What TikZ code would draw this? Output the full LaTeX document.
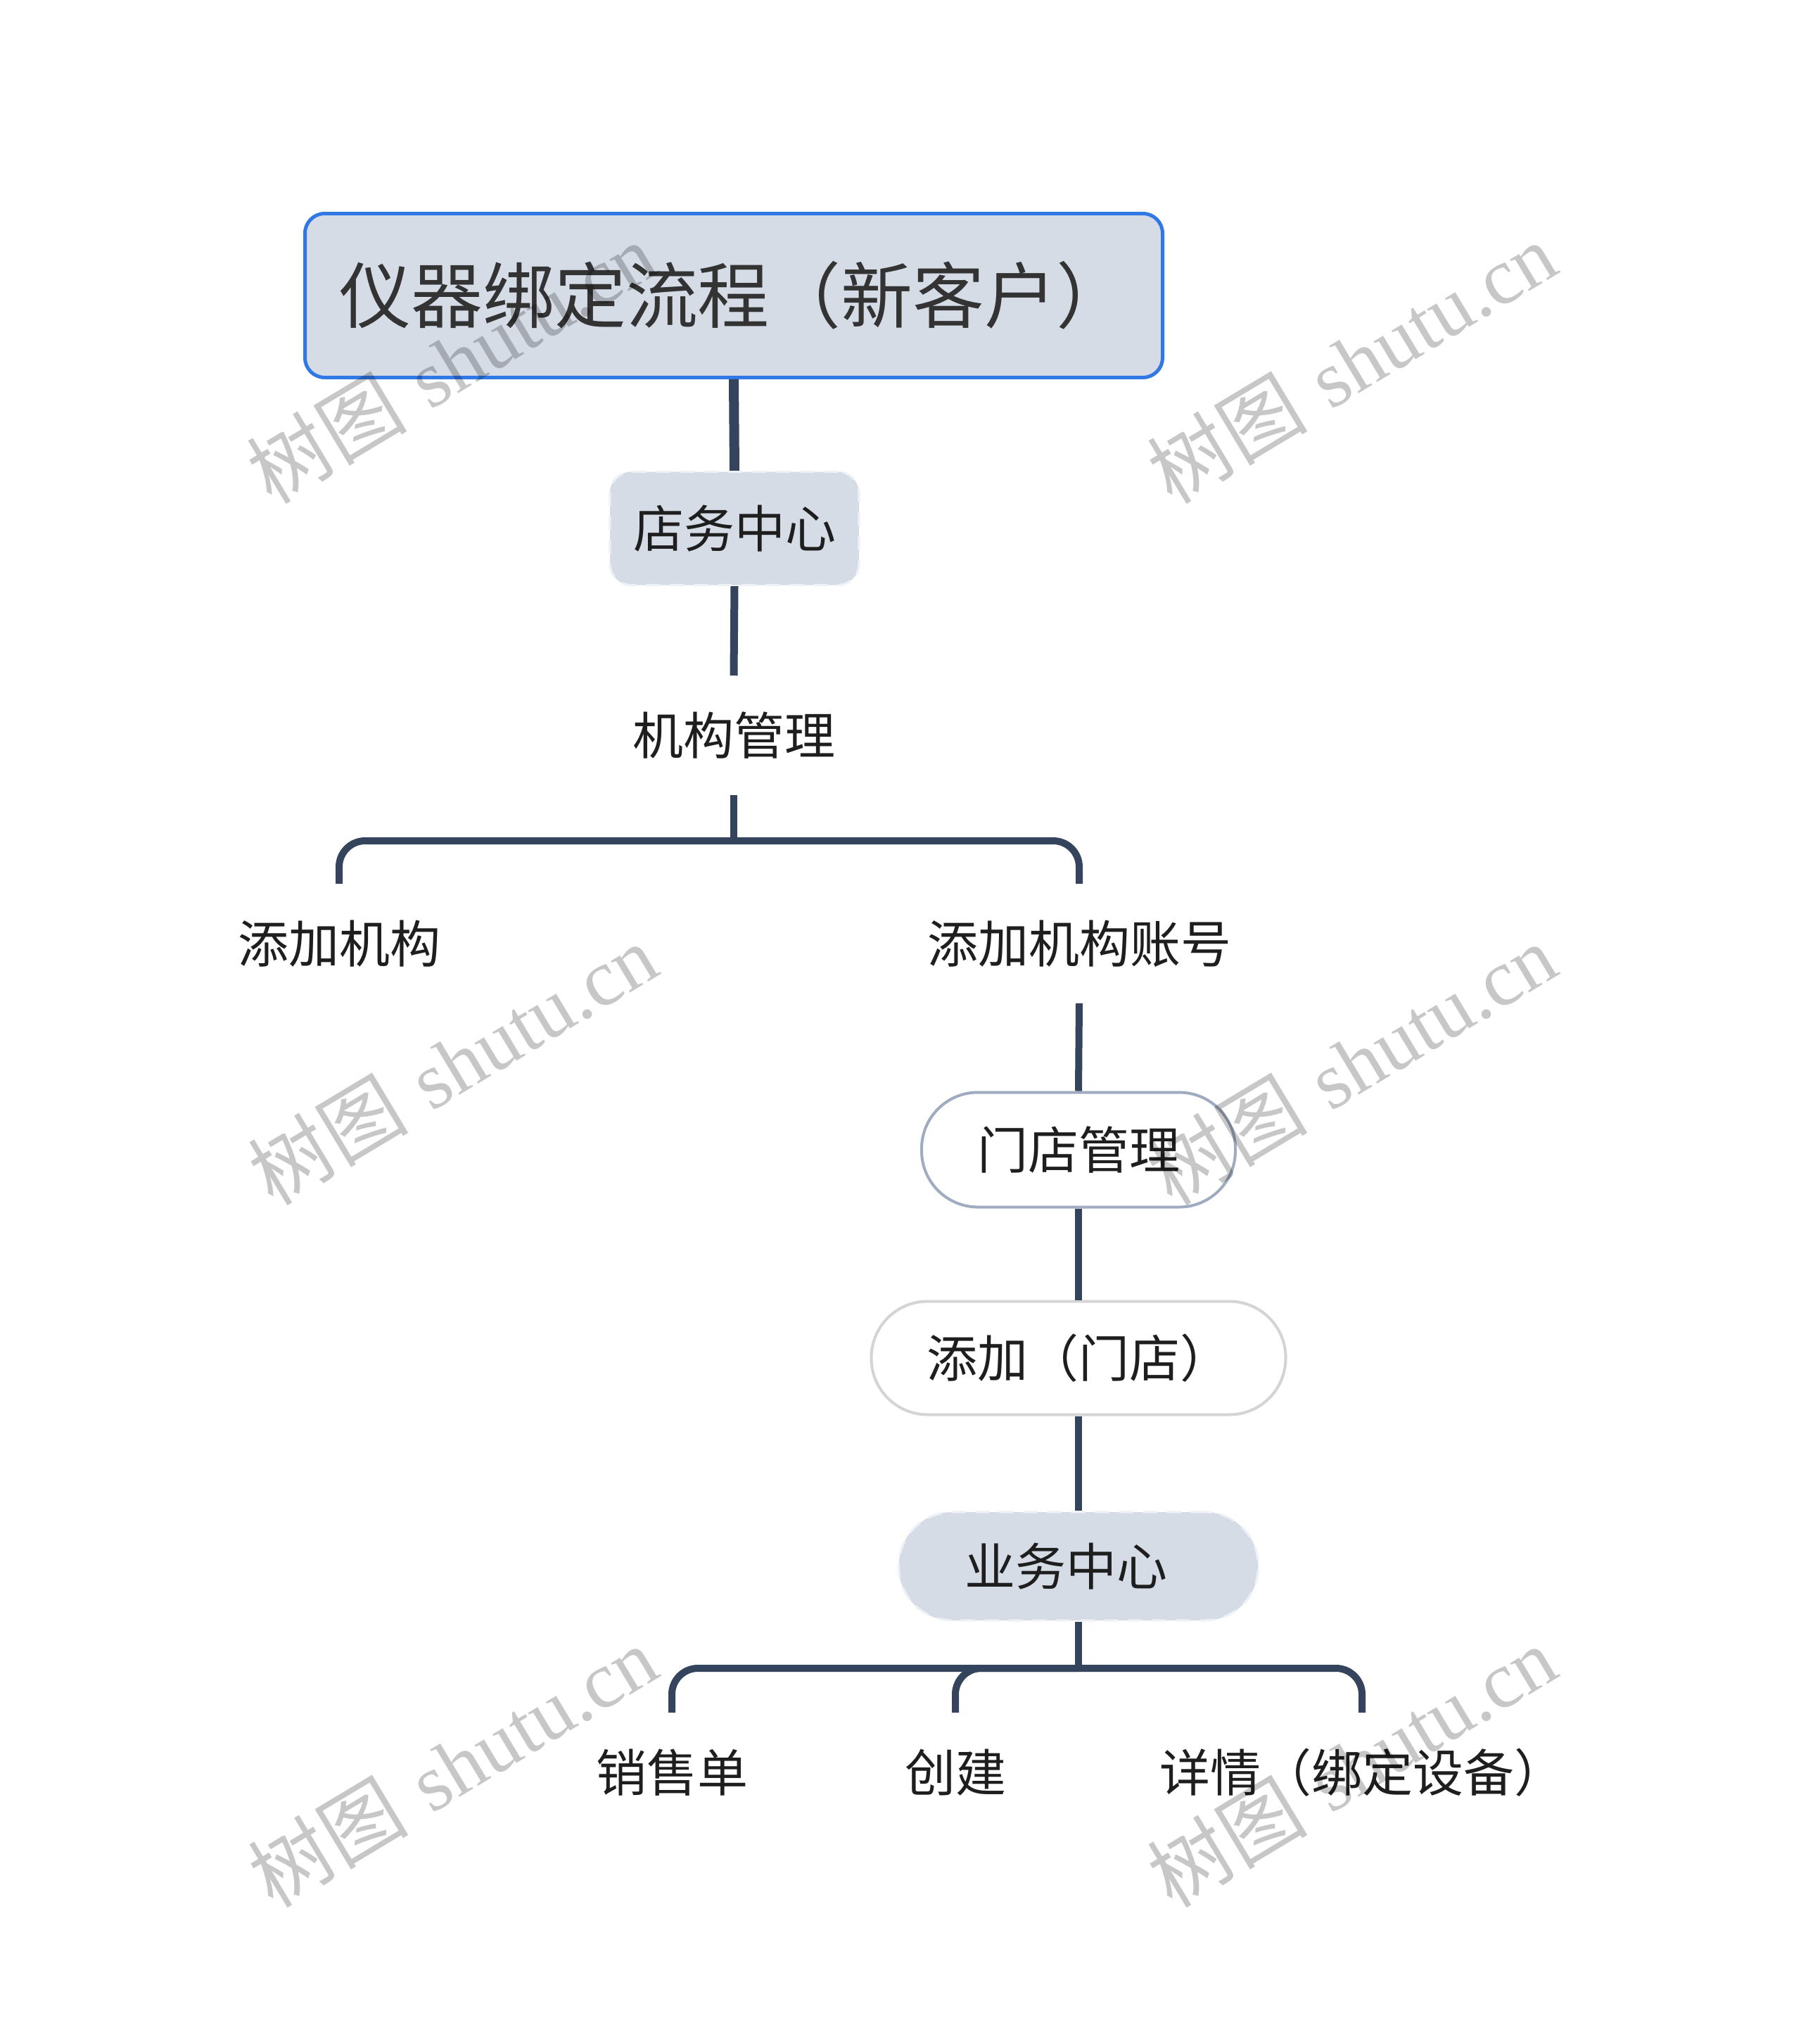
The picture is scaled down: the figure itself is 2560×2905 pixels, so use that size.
\documentclass[tikz,border=0pt]{standalone}
\usepackage{fontspec}
\newfontfamily\cjk{Noto Sans CJK SC}
\newfontfamily\wmserif{Liberation Serif}
\definecolor{nodefill}{HTML}{D5DCE6}
\definecolor{rootblue}{HTML}{2F78E6}
\definecolor{connc}{HTML}{34445C}
\definecolor{pillblue}{HTML}{9EABC0}
\definecolor{pillgray}{HTML}{D4D4D4}
\definecolor{dashc}{HTML}{EEF1F5}
\definecolor{txtc}{HTML}{1E1E1E}
\definecolor{titlec}{HTML}{333333}
\begin{document}
\begin{tikzpicture}[x=0.25pt,y=-0.25pt,
  every node/.style={inner sep=0pt, text=txtc},
  lbl/.style={font=\cjk\fontsize{18pt}{20pt}\selectfont, minimum height=42pt},
  rootbox/.style={draw=rootblue, line width=1.25pt, fill=nodefill, rounded corners=7pt,
    font=\cjk\fontsize{25.5pt}{28pt}\selectfont, text=titlec,
    minimum width=304.75pt, minimum height=58.25pt},
  dashbox/.style={draw=dashc, line width=0.8pt, dash pattern=on 5pt off 3.5pt, fill=nodefill,
    font=\cjk\fontsize{18pt}{20pt}\selectfont},
  pillbox/.style={fill=white, font=\cjk\fontsize{18pt}{20pt}\selectfont},
  conn/.style={draw=connc, line width=2.5pt},
  wm/.style={text=black, text opacity=0.22, rotate=31, font=\fontsize{28.5pt}{30pt}\selectfont}
]
\fill[white] (0,0) rectangle (2560,2905);
\useasboundingbox (0,0) rectangle (2560,2905);

% nodes
\node[rootbox] (root) at (1043,420) {仪器绑定流程（新客户）};
\node[dashbox, rounded corners=7.5pt, minimum width=88.5pt, minimum height=40.25pt] (shop) at (1044,751) {店务中心};
\node[lbl] (org) at (1043,1045) {机构管理};
\node[lbl] (addorg) at (482,1341) {添加机构};
\node[lbl] (addacc) at (1534,1341) {添加机构账号};
\node[pillbox, draw=pillblue, line width=1pt, rounded corners=20pt, minimum width=111.5pt, minimum height=40.75pt] (storemgmt) at (1533,1634) {门店管理};
\node[pillbox, draw=pillgray, line width=1pt, rounded corners=20pt, minimum width=147.25pt, minimum height=40.25pt] (addstore) at (1533,1930) {添加（门店）};
\node[dashbox, rounded corners=19pt, minimum width=127.75pt, minimum height=38.5pt] (biz) at (1533,2226) {\hspace*{-9pt}业务中心};
\node[lbl] (sales) at (955,2519) {销售单};
\node[lbl] (create) at (1358,2519) {创建};
\node[lbl] (detail) at (1936,2519) {详情（绑定设备）};

\coordinate (j1) at (1043,1195);
\coordinate (j2) at (1533,2371);

% connectors
\draw[conn, line width=3.5pt] (root.south) -- (shop.north);
\draw[conn, line width=2.75pt] (shop.south) -- (org.north);
\draw[conn] (org.south) -- (j1);
\draw[conn, rounded corners=9.25pt] (j1) -| (addorg.north);
\draw[conn, rounded corners=9.25pt] (j1) -| (addacc.north);
\draw[conn] (addacc.south) -- (storemgmt.north);
\draw[conn] (storemgmt.south) -- (addstore.north);
\draw[conn] (addstore.south) -- (biz.north);
\draw[conn] (biz.south) -- (j2);
\draw[conn, rounded corners=9.25pt] (j2) -| (sales.north);
\draw[conn, rounded corners=9.25pt] (j2) -| (create.north);
\draw[conn, rounded corners=9.25pt] (j2) -| (detail.north);

% watermarks
\foreach \wx/\wy [count=\i] in {641/515, 1921/515, 643/1512, 1921/1512, 643/2510, 1921/2510}
  \node[wm] (wm\i) at (\wx,\wy) {{\cjk 树图} {\wmserif shutu.cn}};
\end{tikzpicture}
\end{document}
